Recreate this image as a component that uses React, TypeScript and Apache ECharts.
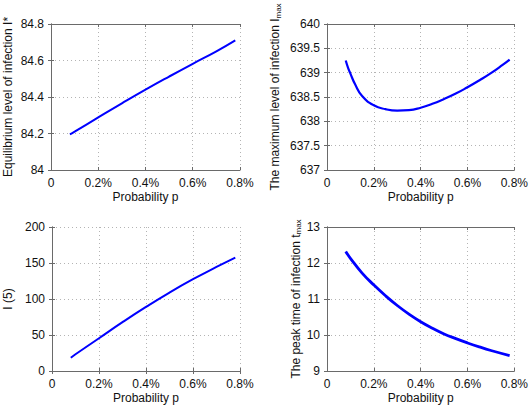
import React, { useEffect, useRef } from "react";
import * as echarts from "echarts";

// Probability p (in %)
const pEquilibrium = [0.08, 0.1, 0.2, 0.3, 0.4, 0.5, 0.6, 0.7, 0.78];
const equilibriumValues = [84.195, 84.21, 84.288, 84.365, 84.44, 84.512, 84.582, 84.65, 84.71];

const pMax = [0.08, 0.09, 0.1, 0.12, 0.15, 0.2, 0.25, 0.3, 0.35, 0.4, 0.45, 0.5, 0.55, 0.6, 0.65, 0.7, 0.75, 0.78];
const maxValues = [639.25, 639.1, 638.98, 638.76, 638.52, 638.33, 638.25, 638.22, 638.23, 638.28, 638.36, 638.46, 638.57, 638.7, 638.84, 638.99, 639.16, 639.27];

const pI5 = [0.08, 0.1, 0.2, 0.3, 0.4, 0.5, 0.6, 0.7, 0.78];
const i5Values = [18.5, 23.2, 45.5, 67.8, 89, 109, 127.5, 144.5, 157.5];

const pPeak = [0.08, 0.1, 0.15, 0.2, 0.25, 0.3, 0.35, 0.4, 0.45, 0.5, 0.55, 0.6, 0.65, 0.7, 0.78];
const peakValues = [12.32, 12.13, 11.72, 11.39, 11.09, 10.82, 10.58, 10.37, 10.19, 10.03, 9.9, 9.78, 9.67, 9.57, 9.43];

const xTicks = { min: 0, max: 0.8, interval: 0.2 };
const xName = "Probability p";

const FONT = "'Liberation Sans', Arial, Helvetica, sans-serif";
const FRAME = "#6a6a6a";
const TEXT = "#111";
const GRIDLINE = "#b4b4b4";

export default function App() {
  const ref = useRef<HTMLDivElement>(null);
  useEffect(() => {
    if (!ref.current) return;
    const chart = echarts.init(ref.current, null, { renderer: "svg" });

    const grids = [
      { left: 50, top: 24, width: 190, height: 146 },
      { left: 327, top: 24, width: 190, height: 146 },
      { left: 50, top: 227, width: 190, height: 144 },
      { left: 327, top: 227, width: 190, height: 144 },
    ];

    const yCfg = [
      { min: 84, max: 84.8, interval: 0.2, name: "Equilibrium level of infection I*", gap: 36 },
      { min: 637, max: 640, interval: 0.5, name: "The maximum level of infection I{s|max}", gap: 45 },
      { min: 0, max: 200, interval: 50, name: "I (5)", gap: 37 },
      { min: 9, max: 13, interval: 1, name: "The peak time of infection t{s|max}", gap: 23 },
    ];

    const lineStyleFrame = { show: true, lineStyle: { color: FRAME, width: 1 } };
    const tick = { show: true, inside: true, length: 3, lineStyle: { color: FRAME } };
    const split = { show: true, lineStyle: { color: GRIDLINE, type: [1, 3] as any, width: 1 } };

    const xAxes: any[] = [];
    const yAxes: any[] = [];
    grids.forEach((_, i) => {
      xAxes.push({
        gridIndex: i,
        type: "value",
        position: "bottom",
        ...xTicks,
        axisLine: lineStyleFrame,
        axisTick: tick,
        splitLine: split,
        axisLabel: {
          color: TEXT,
          fontSize: 12,
          fontFamily: FONT,
          margin: 7,
          formatter: (v: number) => (Math.abs(v) < 1e-9 ? "0" : v.toFixed(1) + "%"),
        },
        name: xName,
        nameLocation: "middle",
        nameGap: 21,
        nameTextStyle: { color: TEXT, fontSize: 12, fontFamily: FONT },
      });
    });
    grids.forEach((_, i) => {
      xAxes.push({
        gridIndex: i,
        type: "value",
        position: "top",
        ...xTicks,
        axisLine: lineStyleFrame,
        axisTick: tick,
        splitLine: { show: false },
        axisLabel: { show: false },
      });
    });
    grids.forEach((_, i) => {
      const c = yCfg[i];
      yAxes.push({
        gridIndex: i,
        type: "value",
        position: "left",
        min: c.min,
        max: c.max,
        interval: c.interval,
        axisLine: lineStyleFrame,
        axisTick: tick,
        splitLine: split,
        axisLabel: {
          color: TEXT,
          fontSize: 12,
          fontFamily: FONT,
          margin: 7,
          formatter: (v: number) => String(Math.round(v * 10) / 10),
        },
        name: c.name,
        nameLocation: "middle",
        nameRotate: 90,
        nameGap: c.gap,
        nameTextStyle: {
          color: TEXT,
          fontSize: 12,
          fontFamily: FONT,
          lineHeight: 14,
          rich: {
            s: { fontSize: 8, fontFamily: FONT, color: TEXT, verticalAlign: "bottom", lineHeight: 8 },
          },
        },
      });
    });
    grids.forEach((_, i) => {
      const c = yCfg[i];
      yAxes.push({
        gridIndex: i,
        type: "value",
        position: "right",
        min: c.min,
        max: c.max,
        interval: c.interval,
        axisLine: lineStyleFrame,
        axisTick: tick,
        splitLine: { show: false },
        axisLabel: { show: false },
      });
    });

    const mk = (xs: number[], ys: number[]) => xs.map((x, k) => [x, ys[k]]);
    const seriesData = [
      { d: mk(pEquilibrium, equilibriumValues), w: 2 },
      { d: mk(pMax, maxValues), w: 2.2 },
      { d: mk(pI5, i5Values), w: 2 },
      { d: mk(pPeak, peakValues), w: 2.8 },
    ];

    chart.setOption({
      animation: false,
      backgroundColor: "#fff",
      grid: grids.map((g) => ({ ...g, containLabel: false })),
      xAxis: xAxes,
      yAxis: yAxes,
      series: seriesData.map((s, i) => ({
        type: "line",
        xAxisIndex: i,
        yAxisIndex: i,
        data: s.d,
        smooth: true,
        showSymbol: false,
        symbol: "none",
        lineStyle: { color: "#0000ff", width: s.w },
        itemStyle: { color: "#0000ff" },
      })),
    });
    return () => chart.dispose();
  }, []);

  return (
    <div
      ref={ref}
      style={{ position: "absolute", left: 0, top: 0, width: 531, height: 409, background: "#fff" }}
    />
  );
}
